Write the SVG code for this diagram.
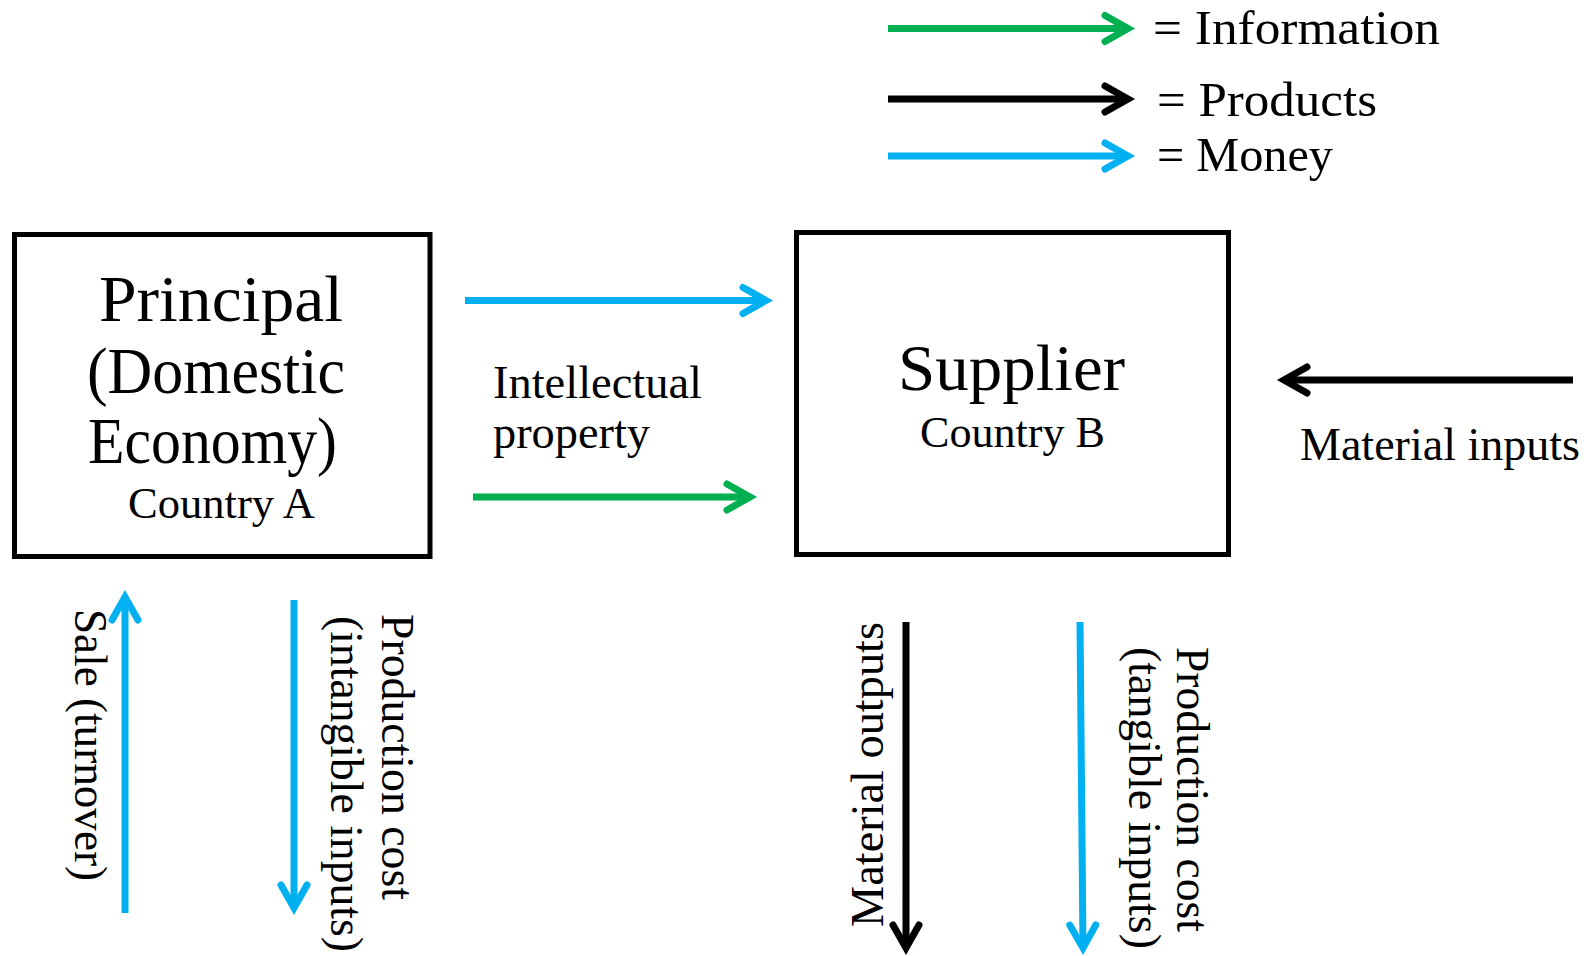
<svg xmlns="http://www.w3.org/2000/svg" width="1595" height="956" viewBox="0 0 1595 956">
<style>
text{font-family:"Liberation Serif","Times New Roman",serif;fill:#000}
.box{fill:#fff;stroke:#000;stroke-width:5}
.c{stroke-width:7;fill:none;stroke-linecap:butt}
.g{stroke:#00B050}
.b{stroke:#00B0F0}
.k{stroke:#000}
.ah{fill:none;stroke-width:7;stroke-linecap:round;stroke-linejoin:miter}
.lg{font-size:48px}
.lbl{font-size:46px}
.ttl{font-size:66px}
.sub{font-size:44px}
</style>
<defs>
<marker id="mg" markerUnits="userSpaceOnUse" orient="auto" overflow="visible" refX="0" refY="0" markerWidth="1" markerHeight="1"><path class="ah" stroke="#00B050" d="M-23,-13 L0,0 L-23,13"/></marker>
<marker id="mb" markerUnits="userSpaceOnUse" orient="auto" overflow="visible" refX="0" refY="0" markerWidth="1" markerHeight="1"><path class="ah" stroke="#00B0F0" d="M-23,-13 L0,0 L-23,13"/></marker>
<marker id="mk" markerUnits="userSpaceOnUse" orient="auto" overflow="visible" refX="0" refY="0" markerWidth="1" markerHeight="1"><path class="ah" stroke="#000" d="M-23,-13 L0,0 L-23,13"/></marker>
</defs>
<rect width="1595" height="956" fill="#fff"/>

<g id="legend">
<line class="c g" x1="888" y1="28.5" x2="1128" y2="28.5" marker-end="url(#mg)"/>
<line class="c k" x1="888" y1="99" x2="1128" y2="99" marker-end="url(#mk)"/>
<line class="c b" x1="888" y1="156" x2="1128" y2="156" marker-end="url(#mb)"/>
<text class="lg" x="1153" y="44" textLength="287" lengthAdjust="spacingAndGlyphs">= Information</text>
<text class="lg" x="1157" y="116" textLength="220" lengthAdjust="spacingAndGlyphs">= Products</text>
<text class="lg" x="1157" y="171" textLength="176" lengthAdjust="spacingAndGlyphs">= Money</text>
</g>

<g id="principal">
<rect class="box" x="14.5" y="234.5" width="415.5" height="322"/>
<text class="ttl" x="99" y="321" textLength="244" lengthAdjust="spacingAndGlyphs">Principal</text>
<text class="ttl" x="87" y="393" textLength="258" lengthAdjust="spacingAndGlyphs">(Domestic</text>
<text class="ttl" x="88" y="463" textLength="249" lengthAdjust="spacingAndGlyphs">Economy)</text>
<text class="sub" x="128" y="518" textLength="187" lengthAdjust="spacingAndGlyphs">Country A</text>
</g>

<g id="supplier">
<rect class="box" x="796.5" y="232.5" width="432" height="322"/>
<text class="ttl" x="898" y="390" textLength="227" lengthAdjust="spacingAndGlyphs">Supplier</text>
<text class="sub" x="920" y="447" textLength="185" lengthAdjust="spacingAndGlyphs">Country B</text>
</g>

<g id="connectors">
<line class="c b" x1="465" y1="300.5" x2="766" y2="300.5" marker-end="url(#mb)"/>
<line class="c g" x1="473" y1="497" x2="750" y2="497" marker-end="url(#mg)"/>
<line class="c k" x1="1573" y1="380" x2="1284" y2="380" marker-end="url(#mk)"/>
<line class="c b" x1="125" y1="913" x2="125" y2="597" marker-end="url(#mb)"/>
<line class="c b" x1="294" y1="600" x2="294" y2="908" marker-end="url(#mb)"/>
<line class="c k" x1="906" y1="622" x2="906" y2="948" marker-end="url(#mk)"/>
<line class="c b" x1="1080" y1="622" x2="1083" y2="948" marker-end="url(#mb)"/>
</g>

<g id="labels">
<text class="lbl" x="493" y="398" textLength="209" lengthAdjust="spacingAndGlyphs">Intellectual</text>
<text class="lbl" x="493" y="448" textLength="157" lengthAdjust="spacingAndGlyphs">property</text>
<text class="lbl" x="1300" y="460" textLength="280" lengthAdjust="spacingAndGlyphs">Material inputs</text>
<text class="lbl" transform="translate(75,609) rotate(90)" textLength="272" lengthAdjust="spacingAndGlyphs">Sale (turnover)</text>
<text class="lbl" transform="translate(382,614) rotate(90)" textLength="286" lengthAdjust="spacingAndGlyphs">Production cost</text>
<text class="lbl" transform="translate(331,616) rotate(90)" textLength="336" lengthAdjust="spacingAndGlyphs">(intangible inputs)</text>
<text class="lbl" transform="translate(883,927) rotate(-90)" textLength="305" lengthAdjust="spacingAndGlyphs">Material outputs</text>
<text class="lbl" transform="translate(1177,647) rotate(90)" textLength="285" lengthAdjust="spacingAndGlyphs">Production cost</text>
<text class="lbl" transform="translate(1129,647) rotate(90)" textLength="302" lengthAdjust="spacingAndGlyphs">(tangible inputs)</text>
</g>
</svg>
